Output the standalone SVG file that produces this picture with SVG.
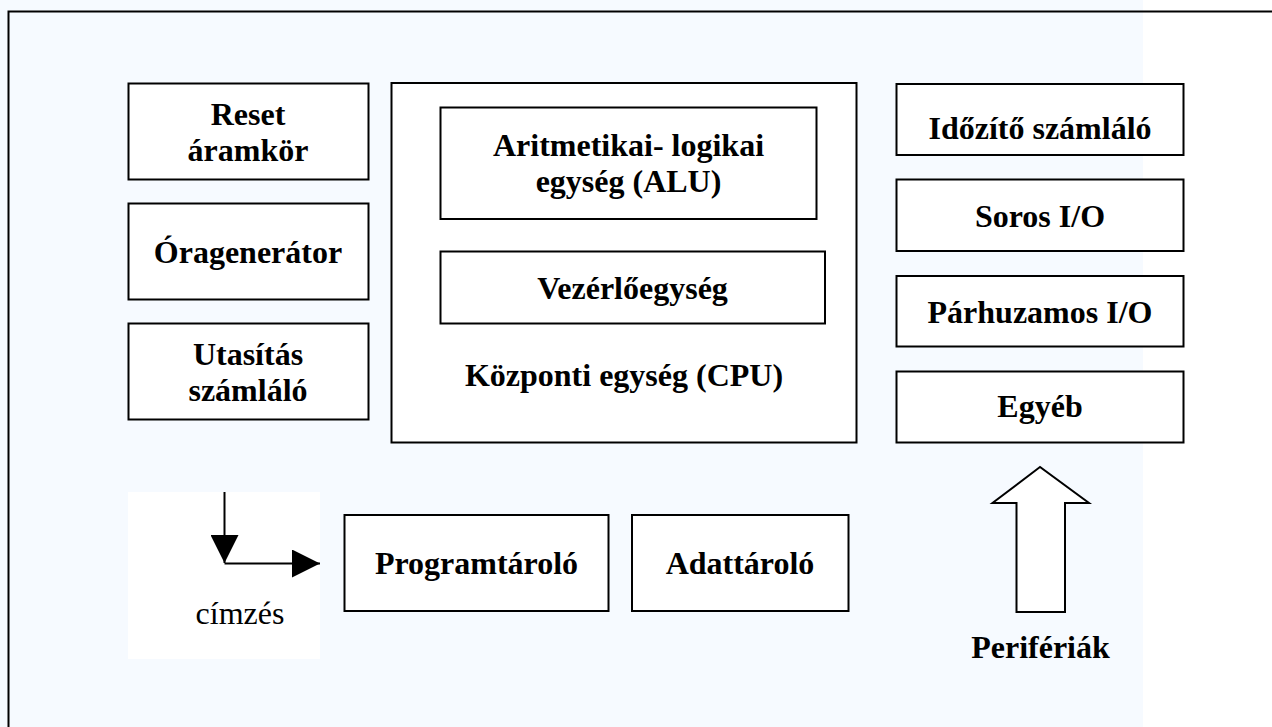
<svg xmlns="http://www.w3.org/2000/svg" width="1272" height="727" viewBox="0 0 1272 727">
  <style>
    .box { fill: #ffffff; stroke: #000000; stroke-width: 2; }
    .lbl { font-family: "Liberation Serif", "Times New Roman", serif; font-size: 32px; font-weight: bold; fill: #000000; text-anchor: middle; }
    .plain { font-family: "Liberation Serif", "Times New Roman", serif; font-size: 32px; fill: #000000; text-anchor: middle; }
    .wire { fill: none; stroke: #000000; stroke-width: 2; }
  </style>
  <defs>
    <marker id="head" viewBox="0 0 28 28" refX="28" refY="14" markerWidth="28" markerHeight="28" markerUnits="userSpaceOnUse" orient="auto">
      <path d="M0,0 L28,14 L0,28 Z" fill="#000000"/>
    </marker>
  </defs>

  <!-- page background and frame -->
  <rect x="0" y="0" width="1272" height="727" fill="#ffffff"/>
  <rect x="0" y="0" width="1143" height="727" fill="#f6faff"/>
  <rect x="8.5" y="11.5" width="1300" height="800" fill="none" stroke="#000000" stroke-width="2"/>

  <!-- left column -->
  <g id="reset">
    <rect class="box" x="128.5" y="83.5" width="240" height="96"/>
    <text class="lbl" x="248" y="125">Reset</text>
    <text class="lbl" x="248" y="161">áramkör</text>
  </g>
  <g id="oragenerator">
    <rect class="box" x="128.5" y="203.5" width="240" height="96"/>
    <text class="lbl" x="248" y="262.5">Óragenerátor</text>
  </g>
  <g id="utasitas">
    <rect class="box" x="128.5" y="323.5" width="240" height="96"/>
    <text class="lbl" x="248" y="365">Utasítás</text>
    <text class="lbl" x="248" y="401">számláló</text>
  </g>

  <!-- central processing unit -->
  <g id="cpu">
    <rect class="box" x="391.5" y="83" width="465" height="359.5"/>
    <text class="lbl" x="624" y="386">Központi egység (CPU)</text>
  </g>
  <g id="alu">
    <rect class="box" x="440.5" y="107.5" width="376" height="111.5"/>
    <text class="lbl" x="628.5" y="156">Aritmetikai- logikai</text>
    <text class="lbl" x="628.5" y="192">egység (ALU)</text>
  </g>
  <g id="vezerlo">
    <rect class="box" x="440.5" y="251.5" width="384.5" height="72"/>
    <text class="lbl" x="632.5" y="298.5">Vezérlőegység</text>
  </g>

  <!-- right column: peripherals -->
  <g id="idozito">
    <rect class="box" x="896.5" y="84" width="287" height="71"/>
    <text class="lbl" x="1040" y="139">Időzítő számláló</text>
  </g>
  <g id="soros">
    <rect class="box" x="896.5" y="179.5" width="287" height="71.5"/>
    <text class="lbl" x="1040" y="226.5">Soros I/O</text>
  </g>
  <g id="parhuzamos">
    <rect class="box" x="896.5" y="276" width="287" height="70.5"/>
    <text class="lbl" x="1040" y="322.5">Párhuzamos I/O</text>
  </g>
  <g id="egyeb">
    <rect class="box" x="896.5" y="371.5" width="287" height="71"/>
    <text class="lbl" x="1040" y="417">Egyéb</text>
  </g>

  <!-- memories -->
  <g id="programtarolo">
    <rect class="box" x="344.5" y="515" width="264" height="96"/>
    <text class="lbl" x="476.5" y="574">Programtároló</text>
  </g>
  <g id="adattarolo">
    <rect class="box" x="632" y="515" width="216.5" height="96"/>
    <text class="lbl" x="740" y="574">Adattároló</text>
  </g>

  <!-- addressing -->
  <g id="cimzes">
    <rect x="128" y="492" width="192" height="167" fill="#ffffff"/>
    <text class="plain" x="240" y="624">címzés</text>
  </g>

  <!-- peripherals arrow -->
  <g id="periferiak">
    <polygon points="1040,467 992.5,503 1016.5,503 1016.5,612 1065,612 1065,503 1089,503" fill="#ffffff" stroke="#000000" stroke-width="2" stroke-linejoin="miter"/>
    <text class="lbl" x="1040.5" y="658">Perifériák</text>
  </g>

  <!-- connectors -->
  <g id="connectors">
    <line class="wire" x1="224.5" y1="492" x2="224.5" y2="563" marker-end="url(#head)"/>
    <line class="wire" x1="224.5" y1="563.5" x2="320" y2="563.5" marker-end="url(#head)"/>
  </g>
</svg>
